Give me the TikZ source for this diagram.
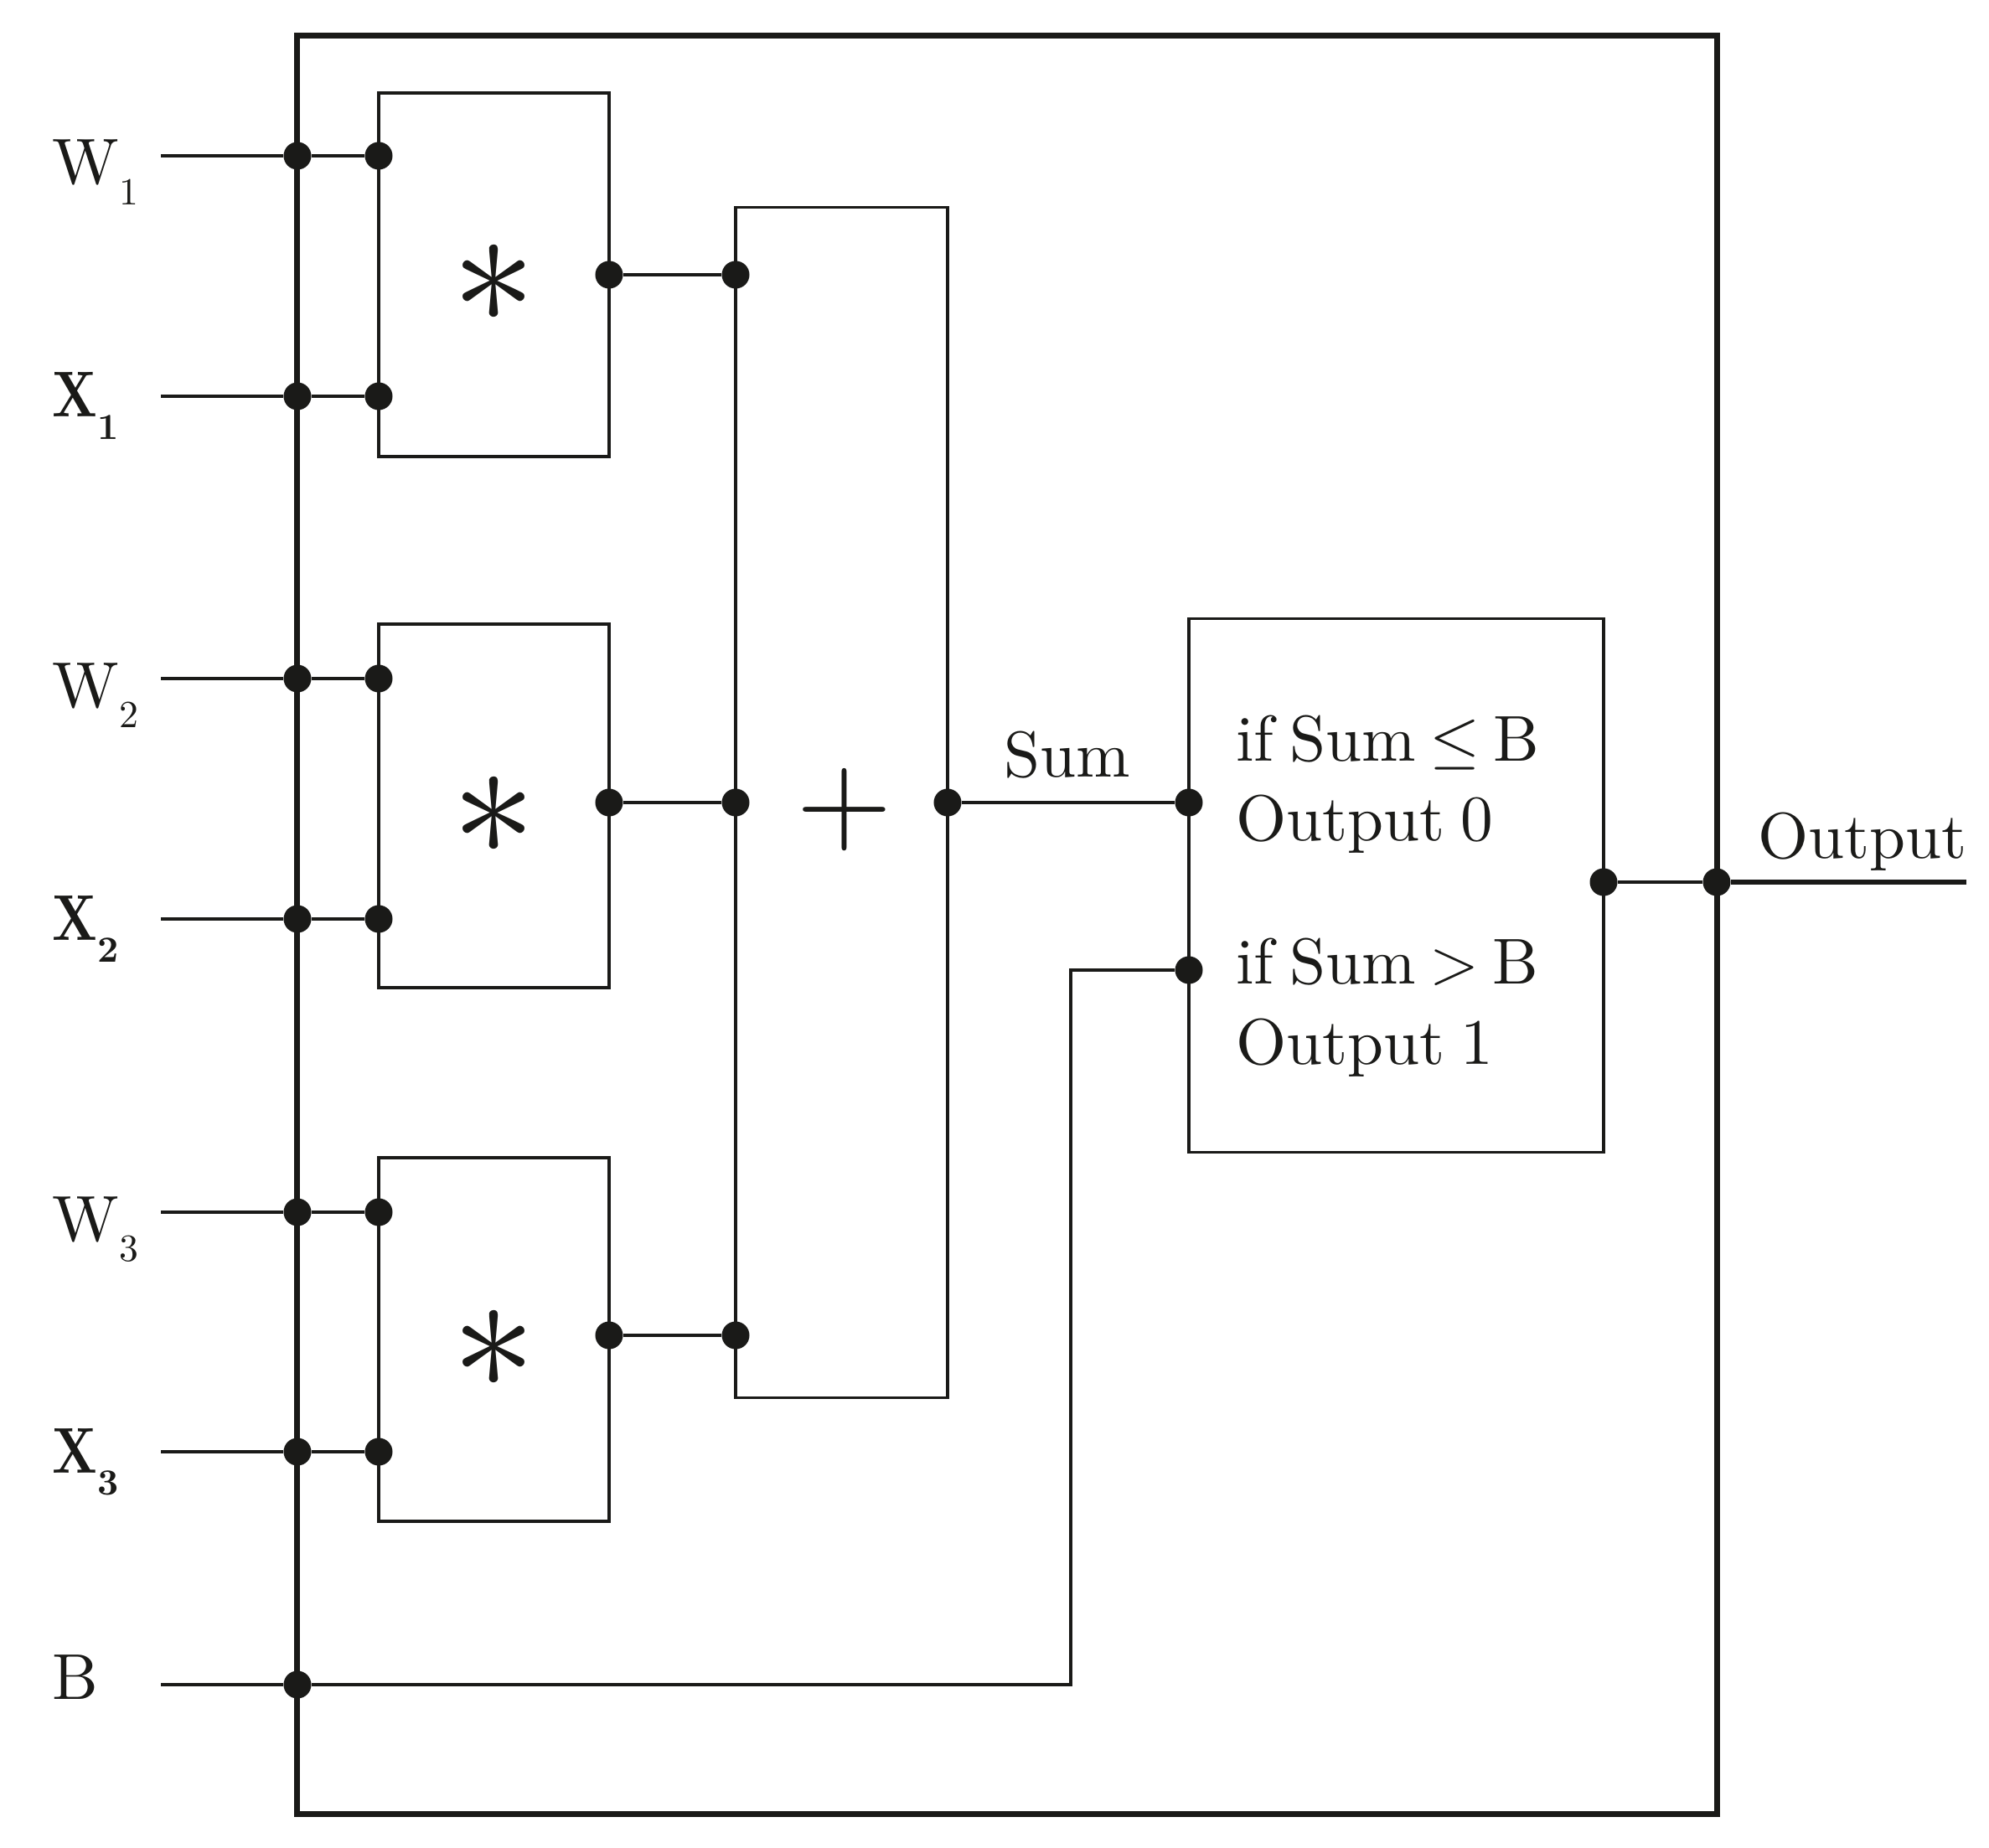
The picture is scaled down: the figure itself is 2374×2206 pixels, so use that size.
\RequirePackage{fix-cm}
\documentclass[tikz,border=0pt]{standalone}
\usepackage{graphicx}
\DeclareFontFamily{TU}{lmten}{}
\DeclareFontShape{TU}{lmten}{m}{n}{<-> "[lmroman10-regular]:mapping=tex-text"}{}
\DeclareFontShape{TU}{lmten}{bx}{n}{<-> "[lmroman10-bold]:mapping=tex-text"}{}
\DeclareFontShape{TU}{lmten}{b}{n}{<-> ssub * lmten/bx/n}{}
\renewcommand{\rmdefault}{lmten}
\definecolor{ink}{RGB}{26,26,24}
\newcommand{\tightsp}{\spaceskip 0.25em\relax}
\tikzset{
 wire/.style={draw=ink, line width=0.95pt},
 heavywire/.style={draw=ink, line width=1.8pt},
 blk/.style={draw=ink, line width=0.95pt, inner sep=0pt, outer sep=0pt},
 outerblk/.style={draw=ink, line width=2.2pt, inner sep=0pt, outer sep=0pt},
 jn/.style={circle, fill=ink, draw=none, inner sep=0pt, minimum size=0.33cm},
 lbl/.style={inner sep=0pt, outer sep=0pt, anchor=base west, text=ink, font=\fontsize{22}{26}\selectfont\tightsp},
 sidelbl/.style={lbl, font=\fontsize{22}{26}\selectfont},
 opsym/.style={inner sep=0pt, outer sep=0pt, anchor=base, text=ink},
}
\newcommand{\lowsub}[1]{\raisebox{-7.1pt}{\fontsize{13}{13}\selectfont #1}}
\newcommand{\boldsub}[1]{\raisebox{-7.4pt}{\fontsize{12.5}{13}\selectfont\bfseries #1}}
\newcommand{\xlet}{\scalebox{0.8}[1]{\bfseries X}}
\newcommand{\relgap}{\hskip0.21em\relax}
\begin{document}
\begin{tikzpicture}[x=0.01cm,y=-0.01cm]
\useasboundingbox (0,0) rectangle (2374,2206);

% boxes
\node[outerblk, minimum width=16.94cm, minimum height=21.22cm] (outer) at (1202,1104) {};
\node[blk, minimum width=2.75cm, minimum height=4.34cm] (m1) at (589.5,328) {};
\node[blk, minimum width=2.75cm, minimum height=4.34cm] (m2) at (589.5,962) {};
\node[blk, minimum width=2.75cm, minimum height=4.34cm] (m3) at (589.5,1599) {};
\node[blk, minimum width=2.53cm, minimum height=14.2cm] (adder) at (1004.5,958) {};
\node[blk, minimum width=4.95cm, minimum height=6.36cm] (dec) at (1666.5,1057) {};

% operator symbols
\node[opsym, font=\fontsize{57}{57}\selectfont] (ast1) at (589.5,386) {$\ast$};
\node[opsym, font=\fontsize{57}{57}\selectfont] (ast2) at (589.5,1020) {$\ast$};
\node[opsym, font=\fontsize{57}{57}\selectfont] (ast3) at (589.5,1657) {$\ast$};
\node[opsym, font=\fontsize{42}{42}\selectfont] (plus) at (1008,1003) {+};

% free ends
\coordinate (sW1) at (192,186);
\coordinate (sX1) at (192,473);
\coordinate (sW2) at (192,810);
\coordinate (sX2) at (192,1097);
\coordinate (sW3) at (192,1447);
\coordinate (sX3) at (192,1733);
\coordinate (sB) at (192,2011);
\coordinate (bc1) at (1278,2011);
\coordinate (bc2) at (1278,1158);
\coordinate (oend) at (2347,1053);

% junction dots
\foreach \n/\y in {W1/186,X1/473,W2/810,X2/1097,W3/1447,X3/1733}{
  \node[jn] (o\n) at (355,\y) {};
  \node[jn] (i\n) at (452,\y) {};
}
\node[jn] (oB) at (355,2011) {};
\node[jn] (mo1) at (727,328) {};
\node[jn] (mo2) at (727,958) {};
\node[jn] (mo3) at (727,1594) {};
\node[jn] (ai1) at (878,328) {};
\node[jn] (ai2) at (878,958) {};
\node[jn] (ai3) at (878,1594) {};
\node[jn] (ao) at (1131,958) {};
\node[jn] (di1) at (1419,958) {};
\node[jn] (di2) at (1419,1158) {};
\node[jn] (dout) at (1914,1053) {};
\node[jn] (oout) at (2049,1053) {};

% wires
\foreach \n in {W1,X1,W2,X2,W3,X3}{
  \draw[wire] (s\n) -- (o\n);
  \draw[wire] (o\n) -- (i\n);
}
\draw[wire] (sB) -- (oB);
\draw[wire] (oB) -- (bc1) -- (bc2) -- (di2);
\draw[wire] (mo1) -- (ai1);
\draw[wire] (mo2) -- (ai2);
\draw[wire] (mo3) -- (ai3);
\draw[wire] (ao) -- (di1);
\draw[wire] (dout) -- (oout);
\draw[heavywire] (oout) -- (oend);

% input labels
\node[sidelbl] (tW1) at (63,220) {W\lowsub{1}};
\node[sidelbl] (tX1) at (63,498) {\xlet\boldsub{1}};
\node[sidelbl] (tW2) at (63,844) {W\lowsub{2}};
\node[sidelbl] (tX2) at (63,1122) {\xlet\boldsub{2}};
\node[sidelbl] (tW3) at (63,1481) {W\lowsub{3}};
\node[sidelbl] (tX3) at (63,1758) {\xlet\boldsub{3}};
\node[sidelbl] (tB) at (63,2028) {B};

% other labels
\node[lbl] (tsum) at (1198,927) {Sum};
\node[lbl] (c1) at (1475,908) {if Sum\relgap$\leq$\relgap B};
\node[lbl] (c2) at (1475,1003) {Output 0};
\node[lbl] (c3) at (1475,1174) {if Sum\relgap$>$\relgap B};
\node[lbl] (c4) at (1475,1270) {Output 1};
\node[lbl] (tout) at (2098,1024) {Output};
\end{tikzpicture}
\end{document}
